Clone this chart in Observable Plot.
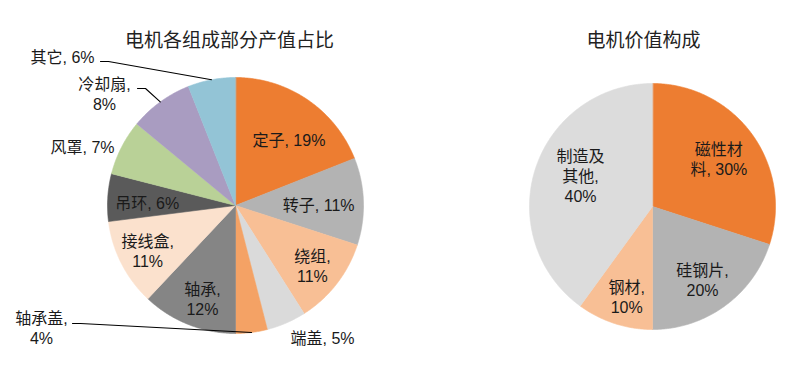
<!DOCTYPE html>
<html><head><meta charset="utf-8">
<script src="https://cdn.jsdelivr.net/npm/d3@7"></script>
<script src="https://cdn.jsdelivr.net/npm/@observablehq/plot@0.6"></script>
<style>body{margin:0;background:#fff;}</style>
</head><body><div id="chart"></div>
<script>
// ---- data ----
const chartTitles = ["电机各组成部分产值占比", "电机价值构成"];
const partNames = ["定子", "转子", "绕组", "端盖", "轴承盖", "轴承", "接线盒", "吊环", "风罩", "冷却扇", "其它"];
const partShares = [19, 11, 11, 5, 4, 12, 11, 6, 7, 8, 6];
const valueNames = ["磁性材料", "硅钢片", "钢材", "制造及其他"];
const valueShares = [30, 20, 10, 40];

// ---- styles ----
const partColors = ["#ED7D31", "#B3B3B3", "#F8BF95", "#DADADA", "#F4A265", "#858585", "#FBE1CD", "#5A5A5A", "#B9D197", "#A99CC1", "#93C4D6"];
const valueColors = ["#ED7D31", "#B3B3B3", "#F8BF95", "#DCDCDC"];
const FONT = "'Liberation Sans','Noto Sans CJK SC',sans-serif";

// ---- layout ----
const pies = [
  {title: chartTitles[0], names: partNames, values: partShares, colors: partColors, cx: 235, cy: 205, r: 128, tx: 229, ty: 40},
  {title: chartTitles[1], names: valueNames, values: valueShares, colors: valueColors, cx: 652, cy: 206, r: 123, tx: 643, ty: 40}
];
// k: label radius (fraction of r) at mid-angle + da degrees; at: explicit offset from centre; lead: leader start offset
const labelLayout = {
  "定子": {k: 0.66, da: 5},
  "转子": {k: 0.65, da: 1.5},
  "绕组": {k: 0.76, comma: true},
  "端盖": {at: [87, 132]},
  "轴承盖": {at: [-194, 122], lead: [-163, 118], comma: true},
  "轴承": {k: 0.77, da: -2, comma: true},
  "接线盒": {k: 0.77, comma: true},
  "吊环": {k: 0.69, da: -2},
  "风罩": {at: [-153, -59]},
  "冷却扇": {at: [-131, -112], lead: [-98, -117], comma: true},
  "其它": {at: [-173, -149], lead: [-135, -144]},
  "磁性材料": {k: 0.667, split: 3},
  "硅钢片": {k: 0.72, da: 1.6, comma: true},
  "钢材": {k: 0.76, da: -2, comma: true},
  "制造及其他": {k: 0.637, da: 5.3, split: 3, comma: true}
};

const rad = (deg) => deg * Math.PI / 180;
const polar = (p, rr, deg) => [p.cx + rr * Math.sin(rad(deg)), p.cy - rr * Math.cos(rad(deg))];

const slicePts = [], labels = [], leaders = [];
for (const p of pies) {
  const total = d3.sum(p.values);
  let acc = 0;
  p.names.forEach((name, i) => {
    const v = p.values[i];
    const a0 = acc / total * 360, a1 = (acc + v) / total * 360;
    acc += v;
    const mid = (a0 + a1) / 2;
    // slice polygon
    slicePts.push({name, x: p.cx, y: p.cy});
    const n = Math.max(2, Math.ceil((a1 - a0) / 0.5));
    for (let j = 0; j <= n; j++) {
      const [x, y] = polar(p, p.r, a0 + (a1 - a0) * j / n);
      slicePts.push({name, x, y});
    }
    // label text
    const L = labelLayout[name] || {k: 0.7};
    const head = L.split ? name.slice(0, L.split) + "\n" + name.slice(L.split) : name;
    const text = head + (L.comma ? ",\n" : ", ") + v + "%";
    let lx, ly;
    if (L.at) { lx = p.cx + L.at[0]; ly = p.cy + L.at[1]; }
    else { [lx, ly] = polar(p, p.r * L.k, mid + (L.da || 0)); }
    labels.push({name, text, x: lx, y: ly});
    if (L.lead) {
      const sx = p.cx + L.lead[0], sy = p.cy + L.lead[1];
      const [ex, ey] = polar(p, p.r, mid);
      leaders.push({name, x: sx, y: sy}, {name, x: sx + 8, y: sy}, {name, x: ex, y: ey});
    }
  });
}

const chart = Plot.plot({
  width: 800, height: 366,
  margin: 0,
  style: {fontFamily: FONT, background: "#fff"},
  x: {domain: [0, 800], range: [0, 800], axis: null},
  y: {domain: [0, 366], range: [0, 366], axis: null},
  color: {type: "ordinal", domain: [...partNames, ...valueNames], range: [...partColors, ...valueColors]},
  marks: [
    Plot.line(slicePts, {x: "x", y: "y", z: "name", fill: "name", stroke: "name", strokeWidth: 0.6, curve: "linear-closed"}),
    Plot.line(leaders, {x: "x", y: "y", z: "name", stroke: "#000", strokeWidth: 1.1}),
    Plot.text(labels, {x: "x", y: "y", text: "text", fontSize: 16, lineHeight: 1.25, fill: "#1a1a1a"}),
    Plot.text(pies, {x: "tx", y: "ty", text: "title", fontSize: 19, fill: "#222"})
  ]
});
document.getElementById("chart").appendChild(chart);
</script>
</body></html>
